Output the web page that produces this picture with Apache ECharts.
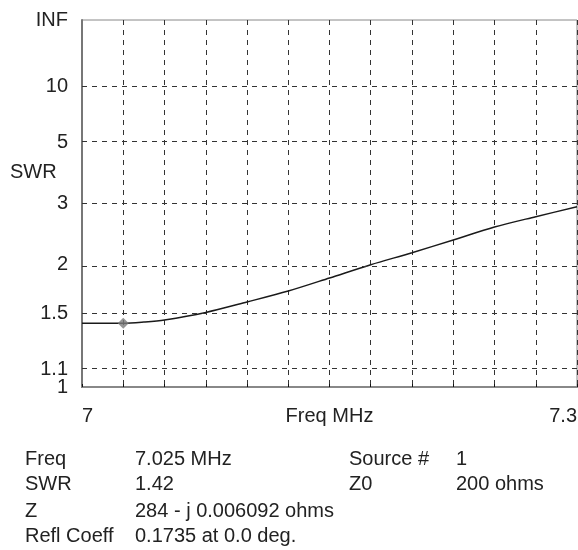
<!DOCTYPE html>
<html>
<head>
<meta charset="utf-8">
<script src="https://cdn.jsdelivr.net/npm/echarts@6/dist/echarts.min.js"></script>
<style>
html,body{margin:0;padding:0;background:#fff;}
#c{width:578px;height:550px;}
</style>
</head>
<body>
<div id="c"></div>
<script>
// ---- data ----
const freqs = [7.000, 7.0125, 7.025, 7.0375, 7.050, 7.075, 7.100, 7.125, 7.150, 7.175, 7.200, 7.225, 7.250, 7.275, 7.300];
const swrValues = [1.42, 1.42, 1.42, 1.43, 1.447, 1.51, 1.603, 1.708, 1.845, 2.00, 2.154, 2.337, 2.546, 2.732, 2.93];
const markerFreq = [7.025];
const markerSwr = [1.42];
const swrTicks = [1, 1.1, 1.5, 2, 3, 5, 10, Infinity];
const swrTickLabels = ['1', '1.1', '1.5', '2', '3', '5', '10', 'INF'];
const xTickValues = [7, 7.3];
const xTickLabels = ['7', '7.3'];
const infoLeft = [['Freq', '7.025 MHz'], ['SWR', '1.42'], ['Z', '284 - j 0.006092 ohms'], ['Refl Coeff', '0.1735 at 0.0 deg.']];
const infoRight = [['Source #', '1'], ['Z0', '200 ohms']];

// SWR axis is linear in reflection coefficient
function rho(s) { return s === Infinity ? 1 : (s - 1) / (s + 1); }

const tickRho = swrTicks.map(rho);
const FONT = 'Liberation Sans, Arial, sans-serif';
const TXT = '#222';

function yLabelFmt(v) {
  for (let i = 0; i < tickRho.length; i++) if (Math.abs(v - tickRho[i]) < 1e-6) return swrTickLabels[i];
  return '';
}

const chart = echarts.init(document.getElementById('c'), null, {renderer: 'canvas'});

const graphics = [{
  type: 'text', left: 10, top: 162,
  style: {text: 'SWR', fontSize: 20, fontFamily: FONT, fill: TXT}
}];
const rowY = [449, 474, 501, 526];
infoLeft.forEach((r, i) => {
  graphics.push({type: 'text', left: 25, top: rowY[i], style: {text: r[0], fontSize: 20, fontFamily: FONT, fill: TXT}});
  graphics.push({type: 'text', left: 135, top: rowY[i], style: {text: r[1], fontSize: 20, fontFamily: FONT, fill: TXT}});
});
infoRight.forEach((r, i) => {
  graphics.push({type: 'text', left: 349, top: rowY[i], style: {text: r[0], fontSize: 20, fontFamily: FONT, fill: TXT}});
  graphics.push({type: 'text', left: 456, top: rowY[i], style: {text: r[1], fontSize: 20, fontFamily: FONT, fill: TXT}});
});

const yLabelBase = {fontSize: 20, fontFamily: FONT, color: TXT, margin: 14, hideOverlap: false, formatter: yLabelFmt};

chart.setOption({
  animation: false,
  backgroundColor: '#fff',
  grid: {left: 82, top: 20, right: 1, bottom: 163, containLabel: false, outerBoundsMode: 'none',
         show: true, borderColor: '#888', borderWidth: 1},
  xAxis: [{
    type: 'value', min: 7, max: 7.3, interval: 0.025, position: 'bottom',
    name: 'Freq MHz', nameLocation: 'middle', nameGap: 19, nameMoveOverlap: false,
    nameTextStyle: {fontSize: 20, fontFamily: FONT, color: TXT},
    axisLine: {show: true, onZero: false, lineStyle: {color: '#111', width: 1}},
    axisTick: {show: true, inside: true, length: 3, lineStyle: {color: '#111'}},
    axisLabel: {
      fontSize: 20, fontFamily: FONT, color: TXT, margin: 19,
      alignMinLabel: 'left', alignMaxLabel: 'right', hideOverlap: false,
      formatter: v => {
        for (let i = 0; i < xTickValues.length; i++) if (Math.abs(v - xTickValues[i]) < 1e-6) return xTickLabels[i];
        return '';
      }
    },
    splitLine: {show: true, lineStyle: {color: '#333', type: [5, 5], width: 1}}
  }, {
    type: 'value', min: 7, max: 7.3, position: 'top',
    axisLine: {show: true, lineStyle: {color: '#888', width: 2}},
    axisTick: {show: false}, axisLabel: {show: false}, splitLine: {show: false}
  }],
  yAxis: [{
    type: 'value', min: 0, max: 1, position: 'left', offset: 0,
    axisLine: {show: true, onZero: false, lineStyle: {color: '#777', width: 2}},
    axisTick: {show: false},
    splitLine: {show: false},
    axisLabel: Object.assign({customValues: tickRho.slice(1)}, yLabelBase)
  }, {
    type: 'value', min: 0, max: 1, position: 'left', offset: 0,
    axisLine: {show: false}, axisTick: {show: false}, splitLine: {show: false},
    axisLabel: Object.assign({customValues: tickRho.slice(0, 1), showMinLabel: true}, yLabelBase)
  }],
  series: [{
    type: 'line', xAxisIndex: 0, yAxisIndex: 0,
    data: freqs.map((f, i) => [f, rho(swrValues[i])]),
    smooth: 0.3, symbol: 'none',
    lineStyle: {color: '#1a1a1a', width: 1.5},
    markLine: {
      silent: true, symbol: 'none', animation: false,
      label: {show: false},
      lineStyle: {color: '#333', type: [5, 5], width: 1},
      data: tickRho.slice(1, -1).map(v => ({yAxis: v}))
    },
    z: 3
  }, {
    type: 'scatter', xAxisIndex: 0, yAxisIndex: 0,
    data: markerFreq.map((f, i) => [f, rho(markerSwr[i])]),
    symbol: 'diamond', symbolSize: 11,
    itemStyle: {color: '#7a7a7a'},
    z: 4
  }],
  graphic: graphics
});
</script>
</body>
</html>
